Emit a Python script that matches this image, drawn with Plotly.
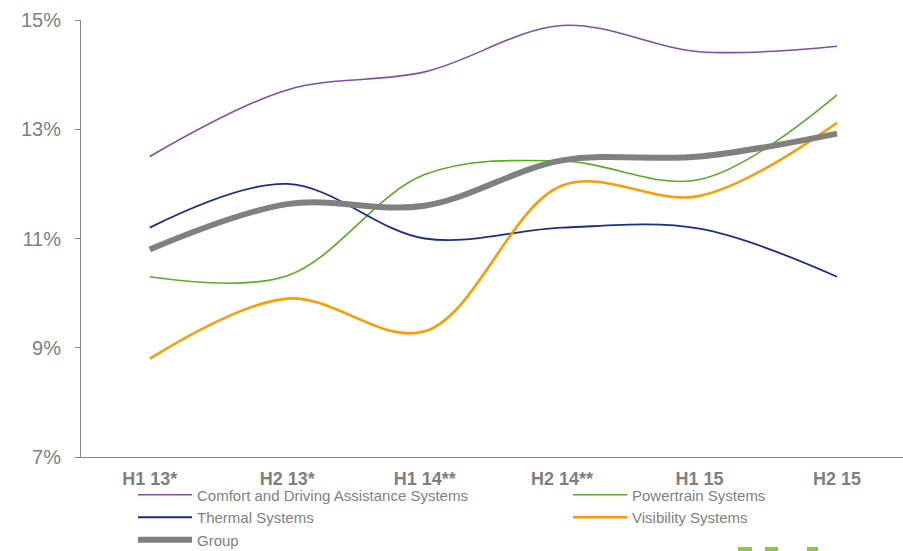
import plotly.graph_objects as go

periods = ["H1 13*", "H2 13*", "H1 14**", "H2 14**", "H1 15", "H2 15"]
comfort = [12.5, 13.72, 14.05, 14.9, 14.42, 14.52]
powertrain = [10.3, 10.32, 12.17, 12.42, 12.08, 13.63]
thermal = [11.2, 12.0, 11.0, 11.2, 11.18, 10.3]
visibility = [8.8, 9.9, 9.3, 11.97, 11.78, 13.12]
group = [10.8, 11.63, 11.6, 12.43, 12.5, 12.92]
y_ticks = [7, 9, 11, 13, 15]
y_labels = ["7%", "9%", "11%", "13%", "15%"]

series = [
    ("Comfort and Driving Assistance Systems", comfort, "#7E4FA8", 1.6, "legend"),
    ("Powertrain Systems", powertrain, "#5AAA22", 1.6, "legend2"),
    ("Thermal Systems", thermal, "#1B2C8A", 1.8, "legend"),
    ("Visibility Systems", visibility, "#FF9A00", 2.6, "legend2"),
    ("Group", group, "#808080", 6, "legend"),
]

fig = go.Figure()
for name, vals, color, w, lg in series:
    fig.add_trace(go.Scatter(
        x=list(range(len(periods))), y=vals, name=name, mode="lines",
        line=dict(color=color, width=w, shape="spline", smoothing=1.0),
        legend=lg, hoverinfo="skip",
    ))

grey = "#7F7F7F"
font_family = "Arial, Liberation Sans, sans-serif"

fig.update_layout(
    width=903, height=551,
    margin=dict(l=81, r=0, t=20, b=94, autoexpand=False),
    paper_bgcolor="white", plot_bgcolor="white",
    font=dict(family=font_family, color=grey),
    xaxis=dict(
        range=[-0.5, 5.48], tickmode="array",
        tickvals=list(range(len(periods))), ticktext=periods,
        showline=True, linecolor="#868686", linewidth=1,
        ticks="", showgrid=False, zeroline=False, tickangle=0,
        tickfont=dict(size=18, color=grey, family=font_family, weight="bold"),
        ticklabelstandoff=5, automargin=False,
    ),
    yaxis=dict(
        range=[7, 15], tickmode="array", tickvals=y_ticks, ticktext=y_labels,
        showline=True, linecolor="#868686", linewidth=1,
        ticks="outside", ticklen=5, tickcolor="#868686",
        showgrid=False, zeroline=False, automargin=False,
        tickfont=dict(size=20, color=grey, family=font_family),
        ticklabelstandoff=10,
    ),
    legend=dict(
        xref="container", yref="container",
        x=133 / 903, xanchor="left", y=1 - 478.5 / 551, yanchor="top",
        orientation="v", font=dict(size=15, color=grey, family=font_family),
        bgcolor="rgba(0,0,0,0)", borderwidth=0, tracegroupgap=0, itemwidth=54,
    ),
    legend2=dict(
        xref="container", yref="container",
        x=568 / 903, xanchor="left", y=1 - 478.5 / 551, yanchor="top",
        orientation="v", font=dict(size=15, color=grey, family=font_family),
        bgcolor="rgba(0,0,0,0)", borderwidth=0, tracegroupgap=0, itemwidth=54,
    ),
    showlegend=True,
)

# decorative green dashes at bottom right (logo fragment)
for x0, x1 in [(738, 752), (765, 778), (807, 818)]:
    fig.add_shape(type="rect", xref="paper", yref="paper",
                  x0=(x0 - 81) / 822, x1=(x1 - 81) / 822,
                  y0=(457 - 552) / 437, y1=(457 - 547) / 437,
                  fillcolor="#8DC63F", line=dict(width=0), layer="above")

fig.write_html("out.html")
